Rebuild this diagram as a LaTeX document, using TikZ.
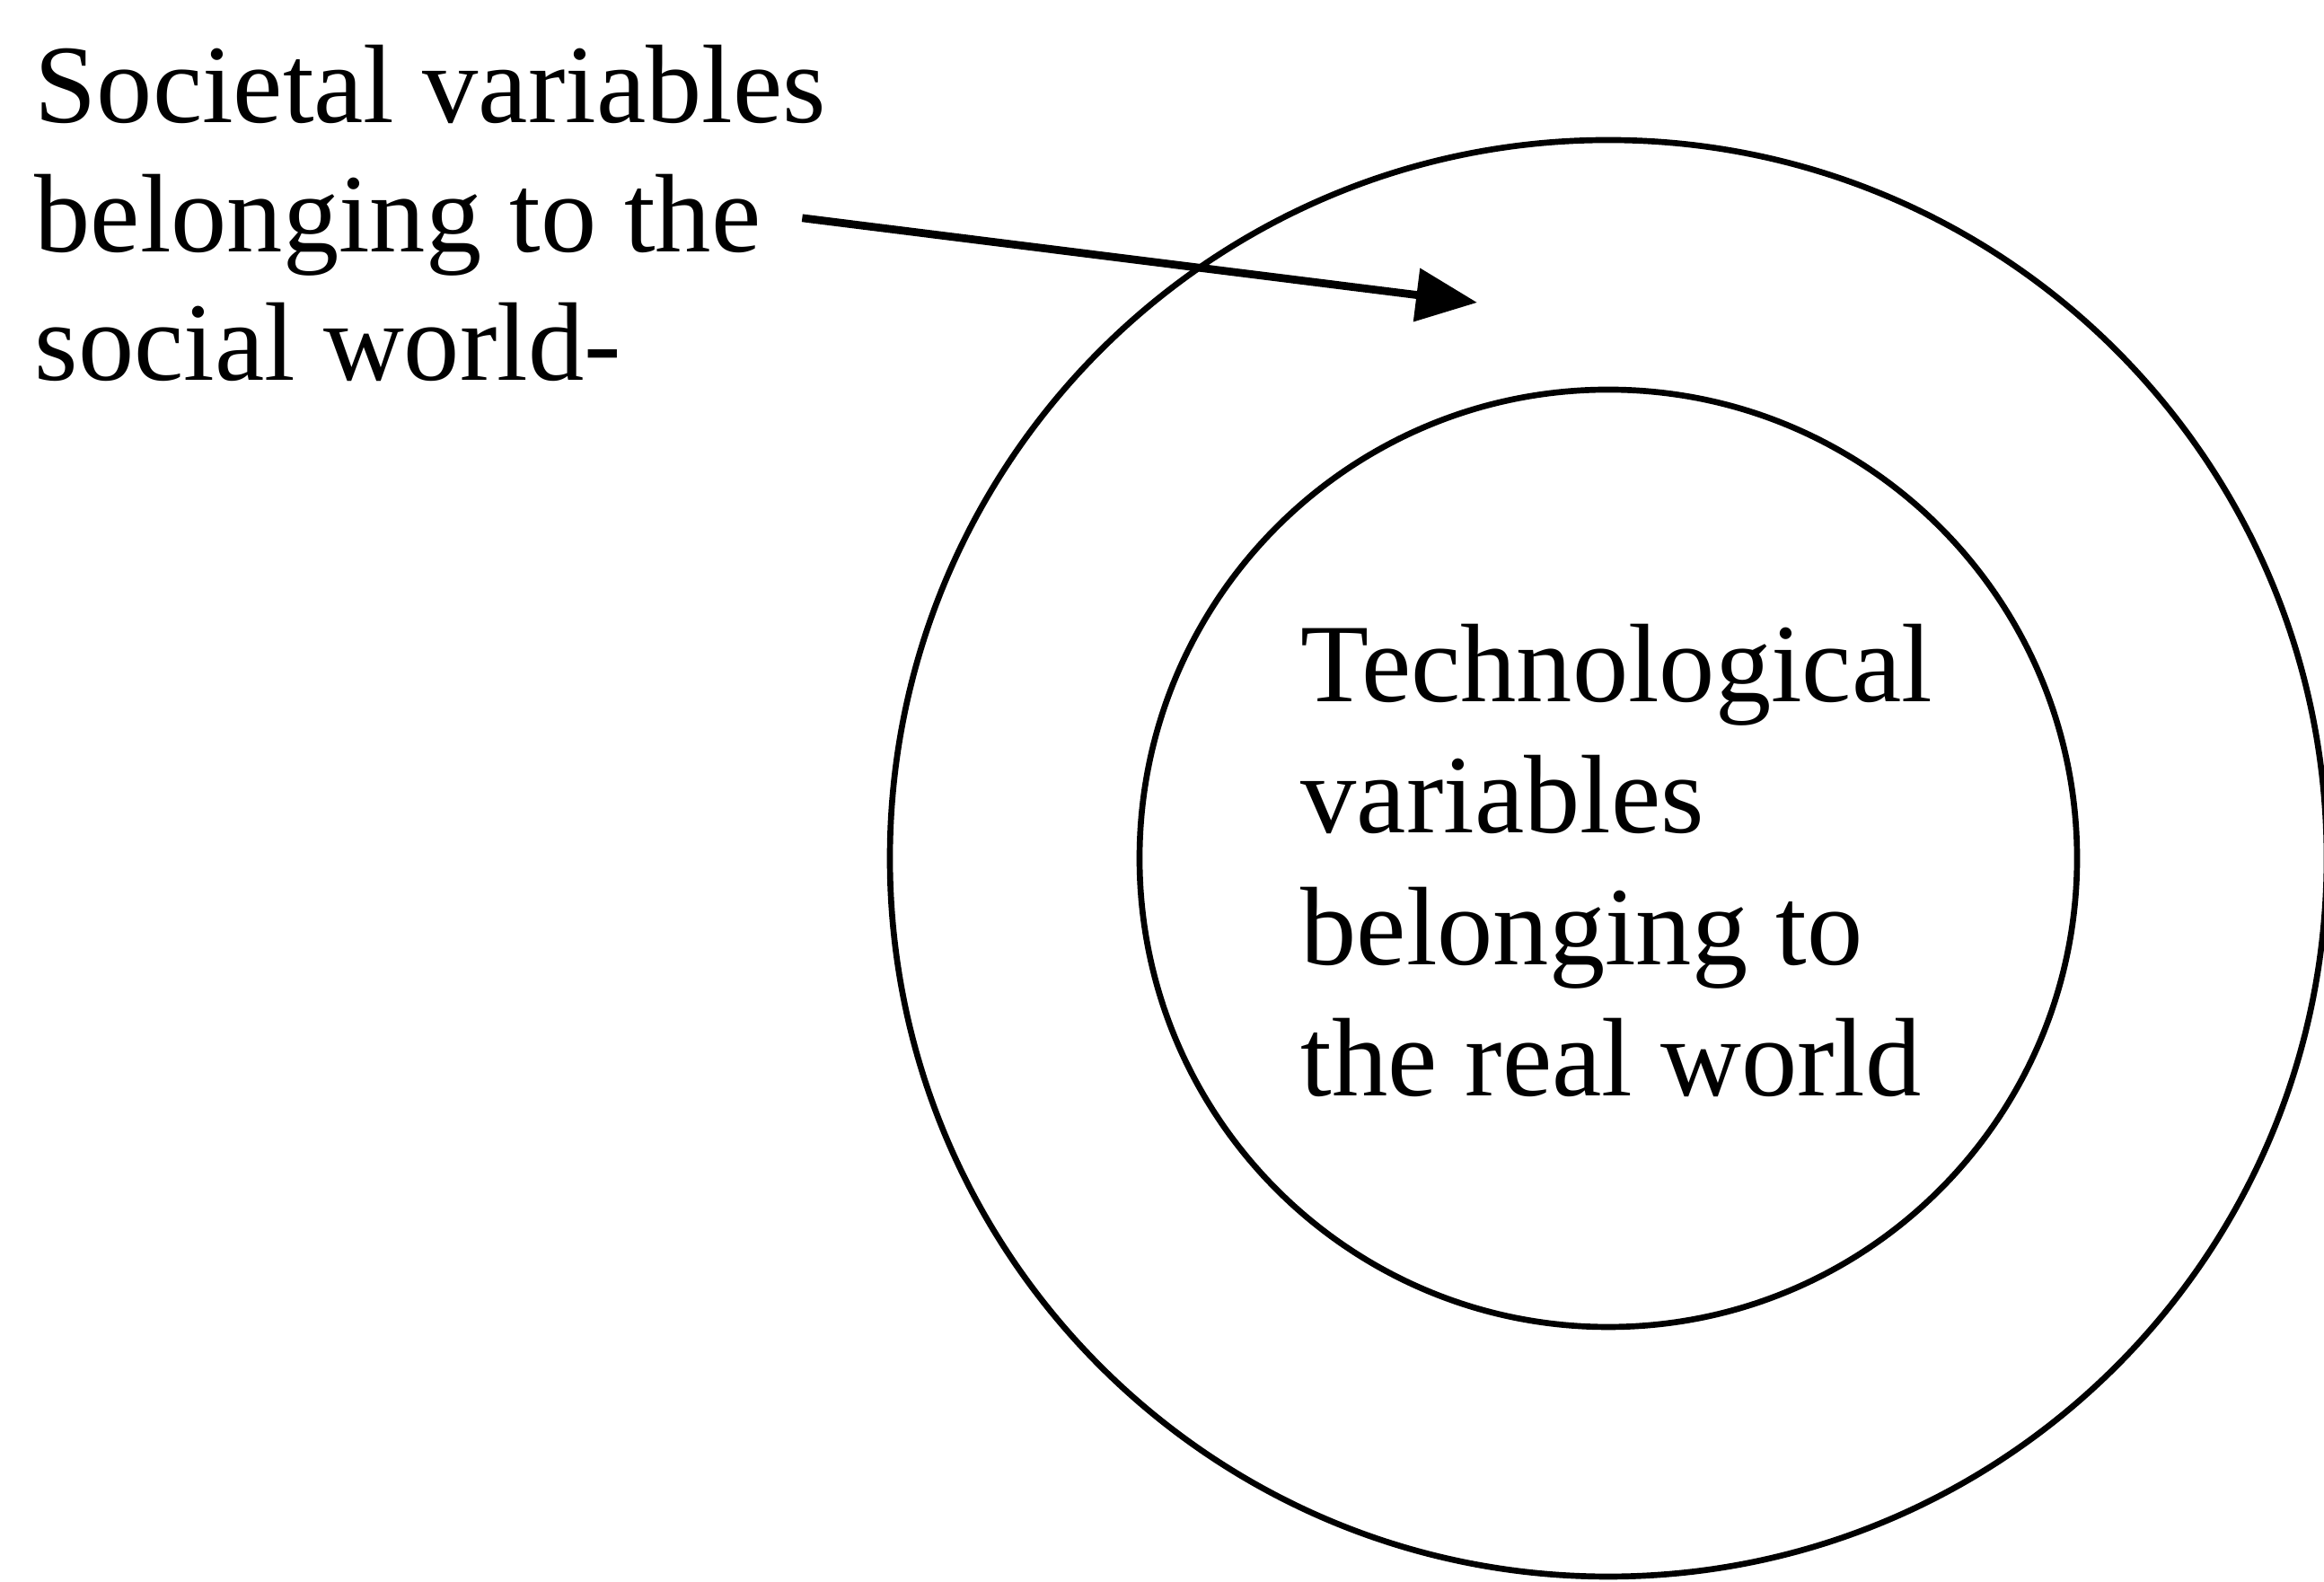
\documentclass[tikz,border=0pt]{standalone}
\usepackage{fontspec}
\setmainfont{Liberation Serif}
\usetikzlibrary{arrows.meta}
\begin{document}
\begin{tikzpicture}[
    ring/.style={line width=1.9pt},
    blurb/.style={align=left, anchor=north west, inner sep=0pt}
  ]
  \useasboundingbox (0,0) rectangle (25.88,17.62);
  % social world and real world
  \draw[ring] (17.91,8.06) circle [radius=8.0];
  \draw[ring] (17.91,8.06) circle [radius=5.22];
  \node[blurb, font=\fontsize{35.4}{40.8}\selectfont] (societal) at (0.38,17.12)
    {Societal variables\\belonging to the\\social world-};
  \node[blurb, font=\fontsize{35.4}{41.7}\selectfont] (technological) at (14.48,10.68)
    {Technological\\variables\\belonging to\\the real world};
  \coordinate (tip) at (16.45,14.25);
  \draw[line width=2.5pt,-{Triangle[length=0.68cm,width=0.58cm]}]
    ([xshift=-0.27cm,yshift=-0.05cm]societal.east) -- (tip);
\end{tikzpicture}
\end{document}
